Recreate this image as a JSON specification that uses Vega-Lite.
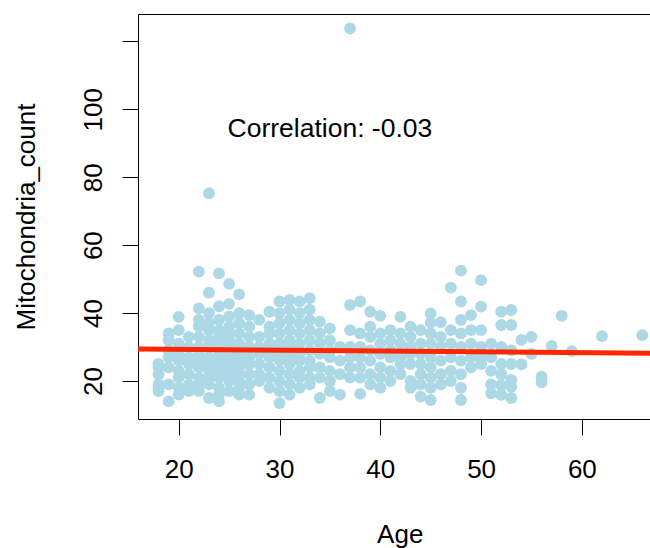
{
  "$schema": "https://vega.github.io/schema/vega-lite/v6.json",
  "width": 512,
  "height": 405,
  "autosize": {"type": "none"},
  "padding": {"left": 138, "top": 14, "right": 0, "bottom": 129},
  "background": "white",
  "config": {"view": {"stroke": null}, "font": "Liberation Sans"},
  "datasets": {
    "pts": [
      {"a":18,"m":17},{"a":18,"m":18},{"a":18,"m":19},{"a":18,"m":22},{"a":18,"m":24},{"a":18,"m":25},
      {"a":19,"m":34},{"a":19,"m":32},{"a":19,"m":29},{"a":19,"m":27},{"a":19,"m":24},{"a":19,"m":19},{"a":19,"m":14},
      {"a":20,"m":38.9},{"a":20,"m":35},{"a":20,"m":31},{"a":20,"m":28},{"a":20,"m":26},{"a":20,"m":23},{"a":20,"m":21},{"a":20,"m":18},{"a":20,"m":16},
      {"a":21,"m":33},{"a":21,"m":30},{"a":21,"m":27},{"a":21,"m":25},{"a":21,"m":22},{"a":21,"m":19},{"a":21,"m":17},
      {"a":22,"m":52.2},{"a":22,"m":41.4},{"a":22,"m":38},{"a":22,"m":36},{"a":22,"m":33},{"a":22,"m":30},{"a":22,"m":28},{"a":22,"m":26},{"a":22,"m":24},{"a":22,"m":21},{"a":22,"m":19},{"a":22,"m":17},
      {"a":23,"m":75.3},{"a":23,"m":46},{"a":23,"m":40},{"a":23,"m":37},{"a":23,"m":35},{"a":23,"m":32},{"a":23,"m":30},{"a":23,"m":27},{"a":23,"m":25},{"a":23,"m":23},{"a":23,"m":21},{"a":23,"m":19},{"a":23,"m":15},
      {"a":24,"m":51.7},{"a":24,"m":42},{"a":24,"m":38},{"a":24,"m":35},{"a":24,"m":33},{"a":24,"m":31},{"a":24,"m":29},{"a":24,"m":27},{"a":24,"m":25},{"a":24,"m":23},{"a":24,"m":21},{"a":24,"m":18},{"a":24,"m":16},{"a":24,"m":14},
      {"a":25,"m":48.6},{"a":25,"m":42.7},{"a":25,"m":39},{"a":25,"m":36},{"a":25,"m":34},{"a":25,"m":32},{"a":25,"m":30},{"a":25,"m":28},{"a":25,"m":26},{"a":25,"m":24},{"a":25,"m":22},{"a":25,"m":20},{"a":25,"m":17},
      {"a":26,"m":45.5},{"a":26,"m":40},{"a":26,"m":37},{"a":26,"m":34},{"a":26,"m":31},{"a":26,"m":28},{"a":26,"m":26},{"a":26,"m":24},{"a":26,"m":22},{"a":26,"m":20},{"a":26,"m":18},{"a":26,"m":16},
      {"a":27,"m":39.4},{"a":27,"m":36},{"a":27,"m":33},{"a":27,"m":30},{"a":27,"m":27},{"a":27,"m":25},{"a":27,"m":22},{"a":27,"m":19},{"a":27,"m":16},
      {"a":28,"m":38},{"a":28,"m":33},{"a":28,"m":30},{"a":28,"m":28},{"a":28,"m":25},{"a":28,"m":22},{"a":28,"m":20},
      {"a":29,"m":40.4},{"a":29,"m":36},{"a":29,"m":34},{"a":29,"m":31},{"a":29,"m":29},{"a":29,"m":27},{"a":29,"m":24},{"a":29,"m":21},{"a":29,"m":18},
      {"a":30,"m":43.4},{"a":30,"m":40},{"a":30,"m":37},{"a":30,"m":34},{"a":30,"m":31},{"a":30,"m":28},{"a":30,"m":26},{"a":30,"m":23},{"a":30,"m":20},{"a":30,"m":17},{"a":30,"m":13.5},
      {"a":31,"m":43.9},{"a":31,"m":41},{"a":31,"m":38},{"a":31,"m":35},{"a":31,"m":32},{"a":31,"m":30},{"a":31,"m":27},{"a":31,"m":25},{"a":31,"m":22},{"a":31,"m":19},{"a":31,"m":16},
      {"a":32,"m":43.4},{"a":32,"m":40},{"a":32,"m":37},{"a":32,"m":34},{"a":32,"m":31},{"a":32,"m":28},{"a":32,"m":26},{"a":32,"m":23},{"a":32,"m":21},{"a":32,"m":18},
      {"a":33,"m":44.4},{"a":33,"m":41},{"a":33,"m":38},{"a":33,"m":35},{"a":33,"m":32},{"a":33,"m":29},{"a":33,"m":26},{"a":33,"m":24},{"a":33,"m":21},{"a":33,"m":19},
      {"a":34,"m":37.5},{"a":34,"m":34},{"a":34,"m":31},{"a":34,"m":28},{"a":34,"m":24},{"a":34,"m":21},{"a":34,"m":15},
      {"a":35,"m":35.5},{"a":35,"m":32},{"a":35,"m":29},{"a":35,"m":27},{"a":35,"m":23},{"a":35,"m":20},{"a":35,"m":17},
      {"a":36,"m":30},{"a":36,"m":26},{"a":36,"m":22},{"a":36,"m":16},
      {"a":37,"m":123.8},{"a":37,"m":42.4},{"a":37,"m":35},{"a":37,"m":30},{"a":37,"m":27},{"a":37,"m":24},{"a":37,"m":21},
      {"a":38,"m":43.4},{"a":38,"m":34},{"a":38,"m":30},{"a":38,"m":27},{"a":38,"m":24},{"a":38,"m":21},{"a":38,"m":16.2},
      {"a":39,"m":40.4},{"a":39,"m":36},{"a":39,"m":33},{"a":39,"m":29},{"a":39,"m":26},{"a":39,"m":22},{"a":39,"m":19},
      {"a":40,"m":39.2},{"a":40,"m":34},{"a":40,"m":31},{"a":40,"m":28},{"a":40,"m":24},{"a":40,"m":21},{"a":40,"m":18},
      {"a":41,"m":35},{"a":41,"m":32},{"a":41,"m":29},{"a":41,"m":27},{"a":41,"m":23},{"a":41,"m":20},
      {"a":42,"m":38.9},{"a":42,"m":34},{"a":42,"m":31},{"a":42,"m":27},{"a":42,"m":25},{"a":42,"m":22},
      {"a":43,"m":36},{"a":43,"m":33},{"a":43,"m":30},{"a":43,"m":28},{"a":43,"m":25},{"a":43,"m":20},{"a":43,"m":18},
      {"a":44,"m":35},{"a":44,"m":31},{"a":44,"m":28},{"a":44,"m":25},{"a":44,"m":22},{"a":44,"m":19},{"a":44,"m":15.4},
      {"a":45,"m":39.9},{"a":45,"m":37.2},{"a":45,"m":34},{"a":45,"m":31},{"a":45,"m":27},{"a":45,"m":24},{"a":45,"m":21},{"a":45,"m":18},{"a":45,"m":14.4},
      {"a":46,"m":37.3},{"a":46,"m":33},{"a":46,"m":30},{"a":46,"m":26},{"a":46,"m":22},{"a":46,"m":19},
      {"a":47,"m":47.5},{"a":47,"m":35},{"a":47,"m":31},{"a":47,"m":27},{"a":47,"m":23},{"a":47,"m":20},
      {"a":48,"m":52.5},{"a":48,"m":43.4},{"a":48,"m":38},{"a":48,"m":34},{"a":48,"m":30},{"a":48,"m":26},{"a":48,"m":22},{"a":48,"m":18},{"a":48,"m":14.4},
      {"a":49,"m":39.4},{"a":49,"m":35},{"a":49,"m":31},{"a":49,"m":27},{"a":49,"m":24},
      {"a":50,"m":49.7},{"a":50,"m":41.9},{"a":50,"m":35},{"a":50,"m":30},{"a":50,"m":27},{"a":50,"m":25},
      {"a":51,"m":31},{"a":51,"m":27},{"a":51,"m":23},{"a":51,"m":19},{"a":51,"m":16.4},
      {"a":52,"m":40.4},{"a":52,"m":36.5},{"a":52,"m":30},{"a":52,"m":25},{"a":52,"m":22},{"a":52,"m":18.8},{"a":52,"m":15.9},
      {"a":53,"m":40.9},{"a":53,"m":36.5},{"a":53,"m":29},{"a":53,"m":25},{"a":53,"m":20.3},{"a":53,"m":18.3},{"a":53,"m":15},
      {"a":54,"m":32.1},{"a":54,"m":24.9},
      {"a":55,"m":33},{"a":55,"m":28},
      {"a":56,"m":21.3},{"a":56,"m":19.6},
      {"a":57,"m":30.3},
      {"a":58,"m":39.2},
      {"a":59,"m":28.8},
      {"a":62,"m":33.2},
      {"a":66,"m":33.5}
    ],
    "fit": [
      {"a":15.96,"m":29.42},
      {"a":66.76,"m":28.16}
    ]
  },
  "layer": [
    {
      "data": {"name": "pts"},
      "mark": {"type": "circle", "color": "#add8e6", "opacity": 1, "size": 140},
      "encoding": {
        "x": {
          "field": "a", "type": "quantitative",
          "scale": {"domain": [15.96, 66.76], "nice": false, "zero": false},
          "axis": {
            "orient": "bottom",
            "values": [20, 30, 40, 50, 60],
            "grid": false,
            "domainColor": "black", "domainWidth": 1,
            "tickColor": "black", "tickWidth": 1, "tickSize": 16,
            "labelFontSize": 26, "labelColor": "black", "labelBaseline": "alphabetic", "labelPadding": 42,
            "labelFont": "Liberation Sans",
            "title": "Age", "titleFontSize": 26, "titleFontWeight": "normal", "titleColor": "black",
            "titleFont": "Liberation Sans",
            "titleX": 261.7, "titleY": 123, "titleAlign": "center", "titleBaseline": "alphabetic"
          }
        },
        "y": {
          "field": "m", "type": "quantitative",
          "scale": {"domain": [8.81, 128.07], "nice": false, "zero": false},
          "axis": {
            "values": [20, 40, 60, 80, 100, 120],
            "labelExpr": "datum.value == 120 ? '' : datum.label",
            "grid": false,
            "domainColor": "black", "domainWidth": 1,
            "tickColor": "black", "tickWidth": 1, "tickSize": 16,
            "labelFontSize": 26, "labelColor": "black", "labelAngle": -90, "labelAlign": "center",
            "labelBaseline": "alphabetic", "labelPadding": 21, "labelFont": "Liberation Sans",
            "title": "Mitochondria_count", "titleFontSize": 26, "titleFontWeight": "normal", "titleColor": "black",
            "titleFont": "Liberation Sans",
            "titleAngle": -90, "titleX": -103.5, "titleY": 202.5, "titleAlign": "center", "titleBaseline": "alphabetic"
          }
        }
      }
    },
    {
      "data": {"name": "fit"},
      "mark": {"type": "line", "color": "#ff2600", "strokeWidth": 5},
      "encoding": {
        "x": {"field": "a", "type": "quantitative",
          "axis": {"orient": "top", "labels": false, "ticks": false, "grid": false, "title": null, "domainColor": "black", "domainWidth": 1}},
        "y": {"field": "m", "type": "quantitative"}
      }
    },
    {
      "data": {"values": [{"label": "Correlation: -0.03"}]},
      "mark": {"type": "text", "fontSize": 26.5, "font": "Liberation Sans", "color": "black", "align": "center", "baseline": "alphabetic"},
      "encoding": {
        "x": {"datum": 35, "type": "quantitative", "axis": null},
        "y": {"datum": 91.8, "type": "quantitative"},
        "text": {"field": "label"}
      }
    }
  ],
  "resolve": {"axis": {"x": "independent"}}
}
